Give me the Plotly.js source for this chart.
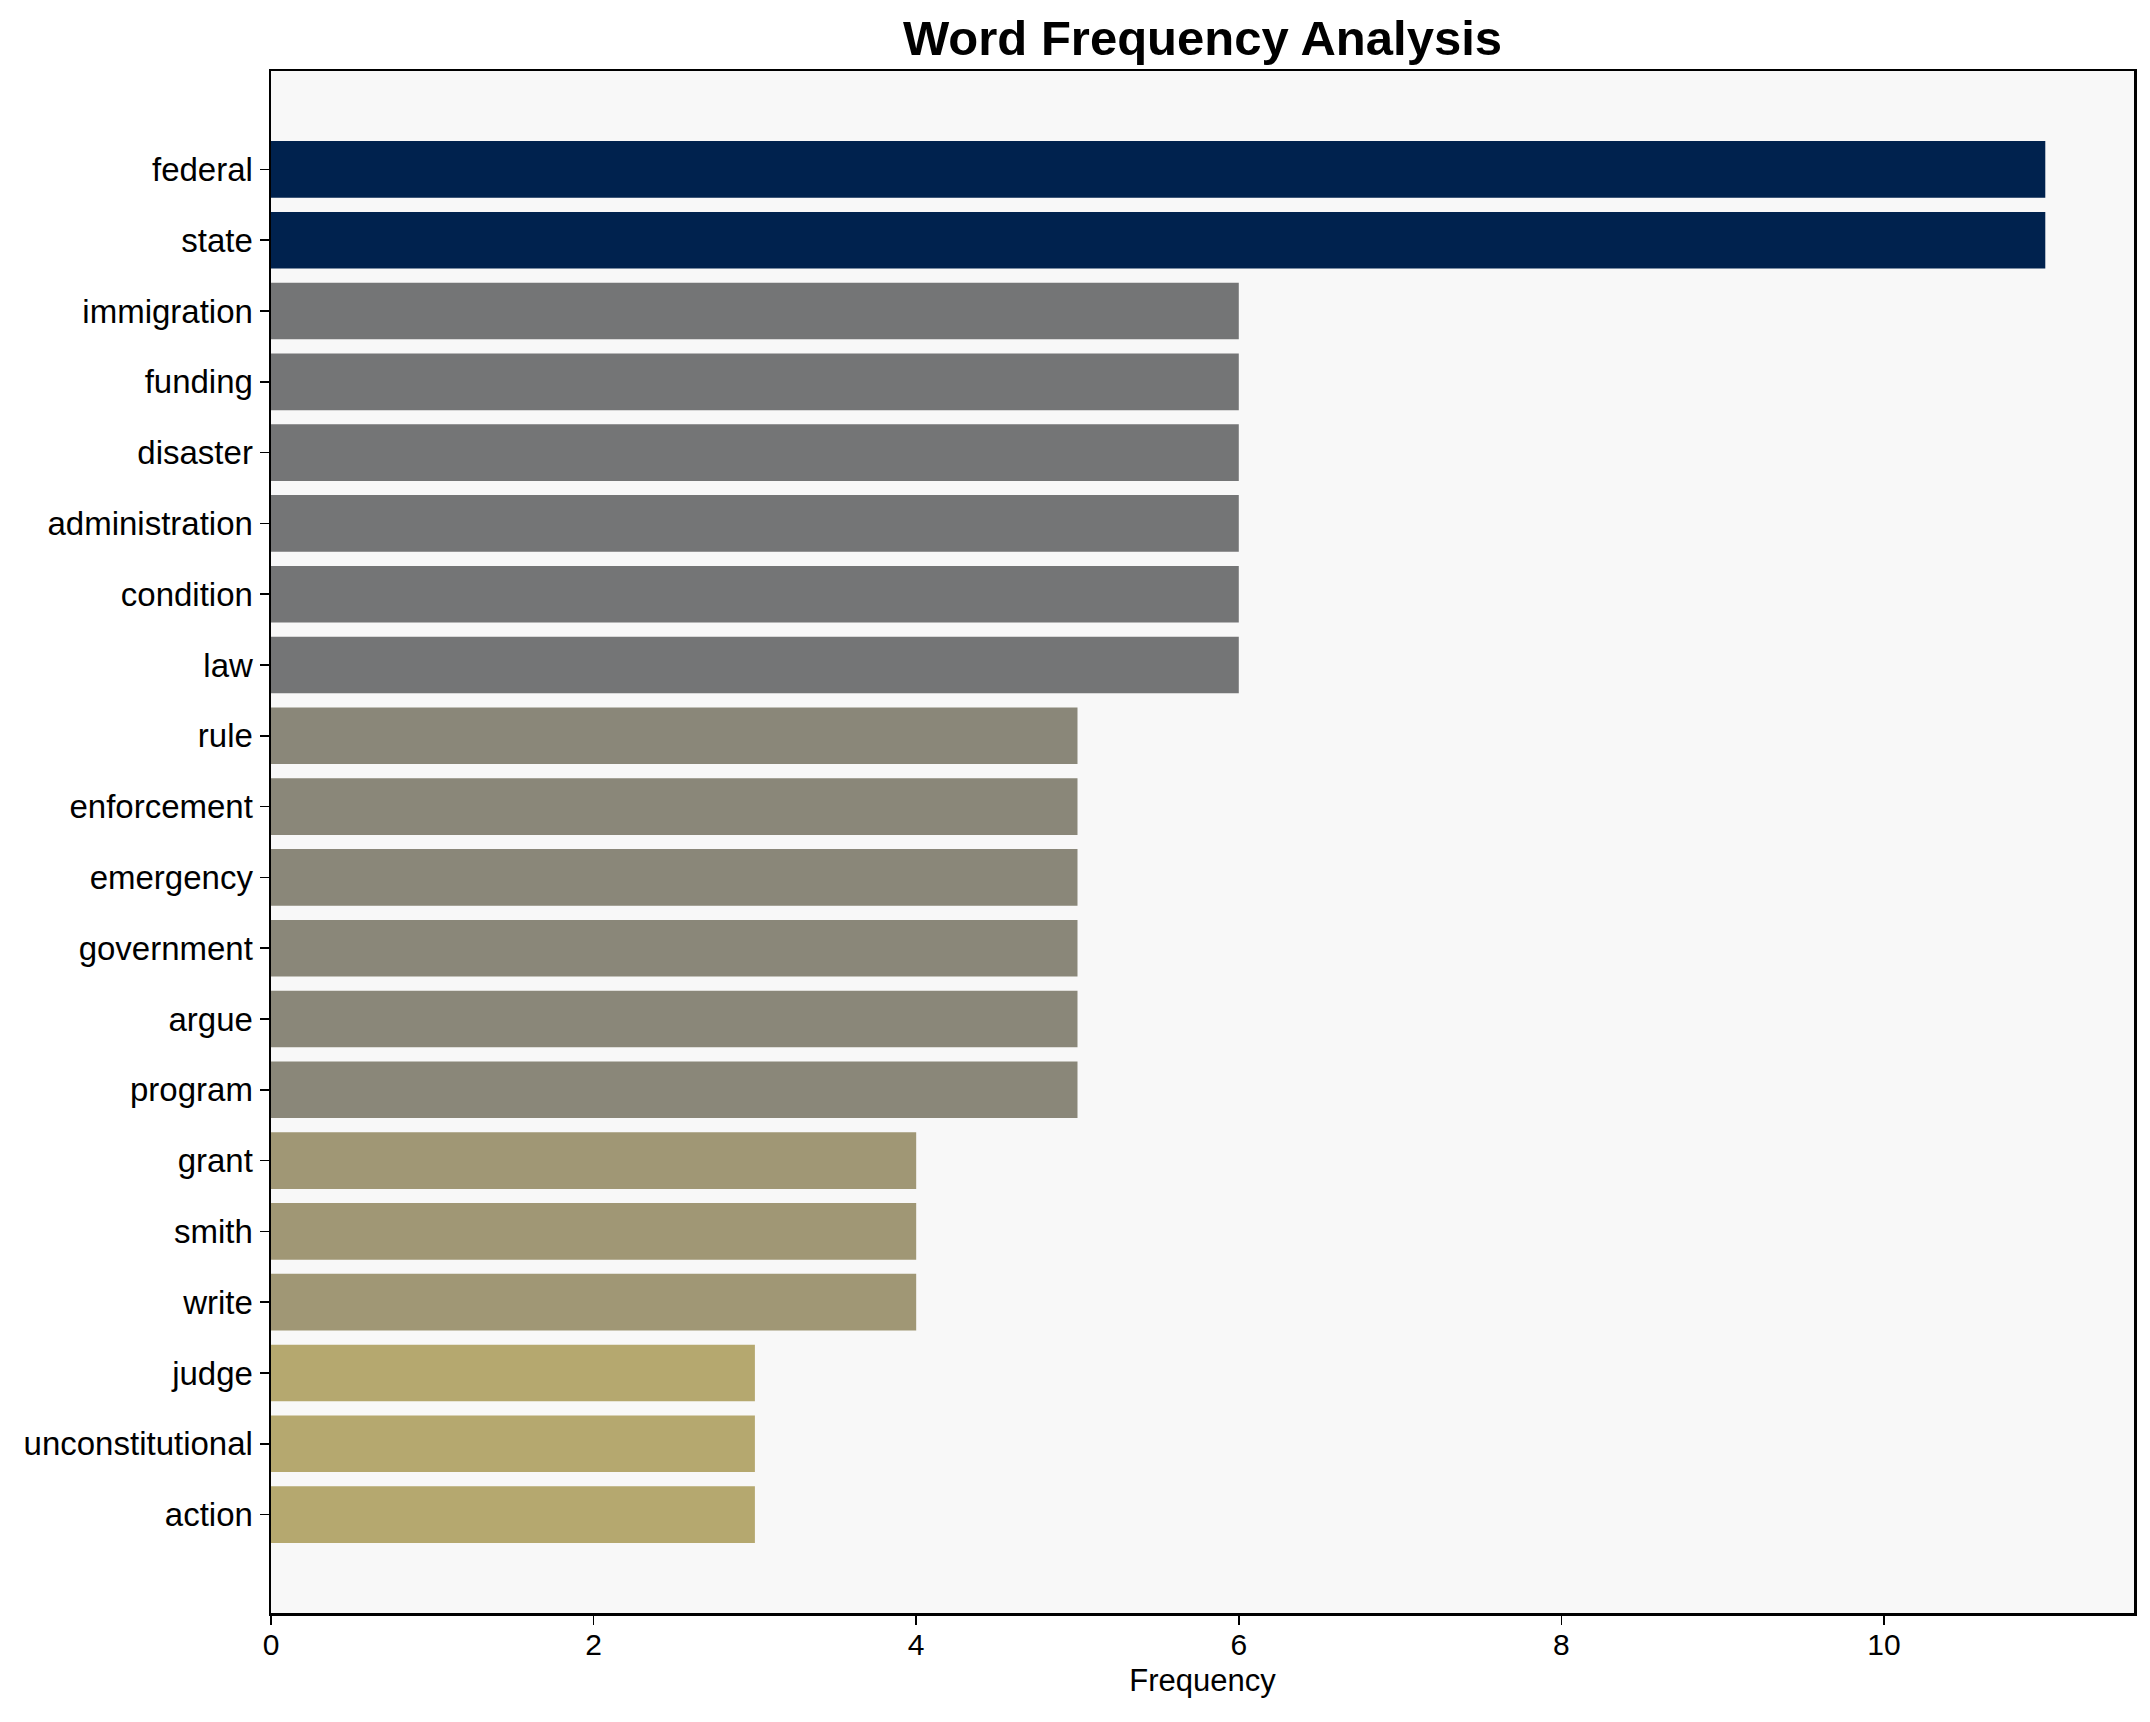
<!DOCTYPE html>
<html>
<head>
<meta charset="utf-8">
<script src="https://cdn.plot.ly/plotly-3.0.1.min.js"></script>
<style>html,body{margin:0;padding:0;background:#fff;}#chart{width:2150px;height:1722px;}</style>
</head>
<body>
<div id="chart"></div>
<script>
const words = ["federal","state","immigration","funding","disaster","administration","condition","law","rule","enforcement","emergency","government","argue","program","grant","smith","write","judge","unconstitutional","action"];
const counts = [11,11,6,6,6,6,6,6,5,5,5,5,5,5,4,4,4,3,3,3];
const colorByCount = {11:"#00224E", 6:"#747576", 5:"#8A8779", 4:"#A09775", 3:"#B5A86F"};
const barColors = counts.map(c => colorByCount[c]);

const FONT = "Liberation Sans, Arial, Helvetica, sans-serif";
const idx = words.map((w,i)=>i);

const trace = {
  type: "bar",
  orientation: "h",
  x: counts,
  y: idx,
  width: 0.8,
  marker: {color: barColors, line: {width: 0}},
  hoverinfo: "x+text",
  text: words,
  textposition: "none"
};

const layout = {
  width: 2150, height: 1722,
  margin: {l: 271, r: 16, t: 71, b: 109},
  paper_bgcolor: "#ffffff",
  plot_bgcolor: "#F8F8F8",
  showlegend: false,
  title: {text: "<b>Word Frequency Analysis</b>", font: {family: FONT, size: 49, color: "#000"},
          x: 0.5, xanchor: "center", xref: "paper", yref: "container", y: 0.978, yanchor: "middle"},
  xaxis: {
    range: [0, 11.55], tickvals: [0,2,4,6,8,10], ticktext: ["0","2","4","6","8","10"],
    showgrid: false, zeroline: false,
    showline: true, linecolor: "#000", linewidth: 2.5, mirror: true,
    ticks: "outside", ticklen: 9, tickwidth: 1.5, tickcolor: "#000",
    ticklabelstandoff: -6,
    tickfont: {family: FONT, size: 30, color: "#000"},
    title: {text: "Frequency", font: {family: FONT, size: 31, color: "#000"}, standoff: 10}
  },
  yaxis: {
    range: [20.39, -1.39], tickvals: idx, ticktext: words,
    showgrid: false, zeroline: false,
    showline: true, linecolor: "#000", linewidth: 2.5, mirror: true,
    ticks: "outside", ticklen: 9, tickwidth: 1.5, tickcolor: "#000",
    tickfont: {family: FONT, size: 33, color: "#000"}
  }
};

Plotly.newPlot("chart", [trace], layout, {displayModeBar: false, staticPlot: true});
</script>
</body>
</html>
